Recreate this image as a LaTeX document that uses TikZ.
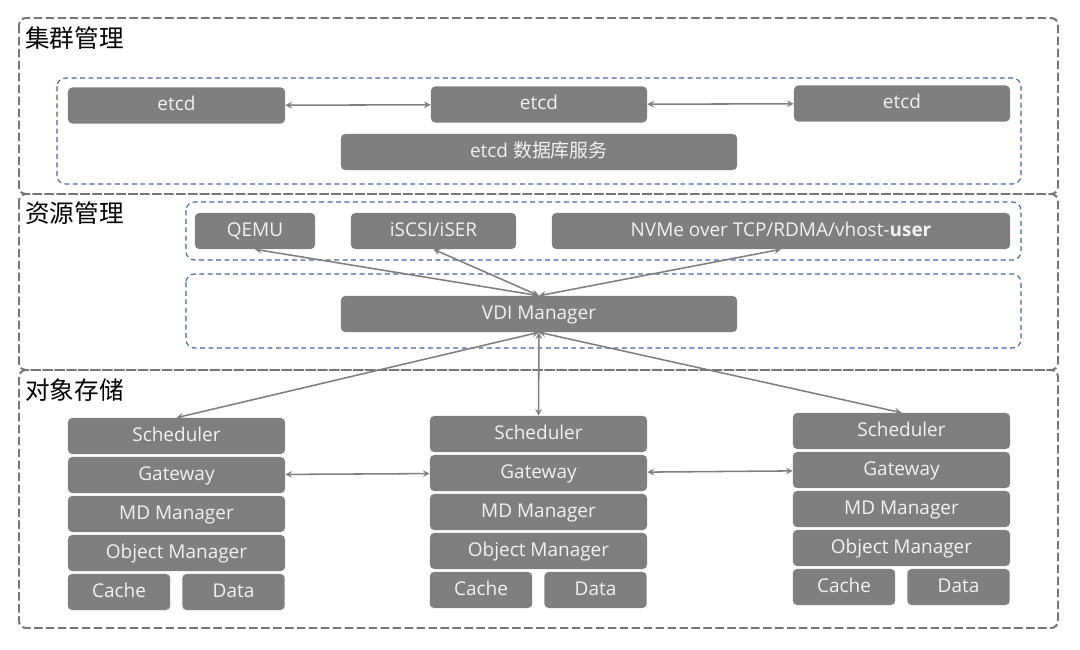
\documentclass[tikz,border=0pt]{standalone}
\usepackage{fontspec}
\setsansfont{Open Sans}
\newfontfamily\cjk{Noto Sans CJK SC}
\usepackage{xcolor}
\definecolor{boxgray}{HTML}{7F7F7F}
\definecolor{boxtext}{HTML}{F2F2F2}
\definecolor{framegray}{HTML}{767676}
\definecolor{frameblue}{HTML}{3F64AC}

\begin{document}
\begin{tikzpicture}[x=0.025cm,y=-0.025cm,>=stealth,
  blk/.style={fill=boxgray,text=boxtext,rounded corners=3pt,inner sep=0pt,
    minimum height=0.9cm,text height=1em,text depth=0.28em,
    font=\sffamily\fontsize{13.5}{16}\selectfont},
  layer/.style={draw=framegray,line width=1.4pt,dash pattern=on 6pt off 2.5pt,rounded corners=5pt},
  group/.style={draw=frameblue,line width=0.8pt,dash pattern=on 3.5pt off 2.5pt,rounded corners=6pt},
  title/.style={anchor=west,inner sep=0pt,font=\cjk\fontsize{17.5}{20}\selectfont},
  link/.style={draw=boxgray,line width=1.1pt,<->}]
  \useasboundingbox (0,0) rectangle (1080,650);

  % three layers
  \draw[layer] (19,18) rectangle (1058,194);
  \draw[layer] (19,194) rectangle (1058,370);
  \draw[layer] (19,370) rectangle (1058,628);
  \node[title] (tclu) at (25,38) {集群管理};
  \node[title] (tres) at (25,213) {资源管理};
  \node[title] (tobj) at (25,390) {对象存储};

  % cluster management
  \draw[group] (57,78) rectangle (1021,184);
  \node[blk,minimum width=5.425cm] (etcdL) at (176.5,105.5) {etcd};
  \node[blk,minimum width=5.4cm] (etcdM) at (539,104.5) {etcd};
  \node[blk,minimum width=5.4cm] (etcdR) at (902,103.5) {etcd};
  \node[blk,minimum width=9.9cm] (etcddb) at (539,152) {etcd {\cjk 数据库服务}};
  \draw[link] (etcdL) -- (etcdM);
  \draw[link] (etcdM) -- (etcdR);

  % resource management
  \draw[group] (186,202) rectangle (1021,260);
  \draw[group] (186,274) rectangle (1021,348);
  \node[blk,minimum width=3cm] (qemu) at (255,231) {QEMU};
  \node[blk,minimum width=4.125cm] (iscsi) at (433.5,231) {iSCSI/iSER};
  \node[blk,minimum width=11.45cm] (nvme) at (781,231) {NVMe over TCP/RDMA/vhost-\textbf{user}};
  \node[blk,minimum width=9.9cm] (vdi) at (539,314) {VDI Manager};
  \draw[link] (vdi.north) -- (qemu.south);
  \draw[link] (vdi.north) -- (iscsi.south);
  \draw[link] (vdi.north) -- (nvme.south);

  % object storage stacks
  \foreach \s/\cx/\ty in {L/176.5/418,M/538.5/416,R/901.5/413}{
    \node[blk,minimum width=5.425cm] (sch\s) at (\cx,\ty+18) {Scheduler};
    \node[blk,minimum width=5.425cm] (gw\s) at (\cx,\ty+57) {Gateway};
    \node[blk,minimum width=5.425cm] (md\s) at (\cx,\ty+96) {MD Manager};
    \node[blk,minimum width=5.425cm] (om\s) at (\cx,\ty+135) {Object Manager};
    \node[blk,minimum width=2.56cm] (cache\s) at (\cx-57.5,\ty+174) {Cache};
    \node[blk,minimum width=2.56cm] (data\s) at (\cx+57,\ty+174) {Data};
  }
  \draw[link] (vdi.south) -- (schL.north);
  \draw[link] (vdi.south) -- (schM.north);
  \draw[link] (vdi.south) -- (schR.north);
  \draw[link] (gwL) -- (gwM);
  \draw[link] (gwM) -- (gwR);
\end{tikzpicture}
\end{document}
